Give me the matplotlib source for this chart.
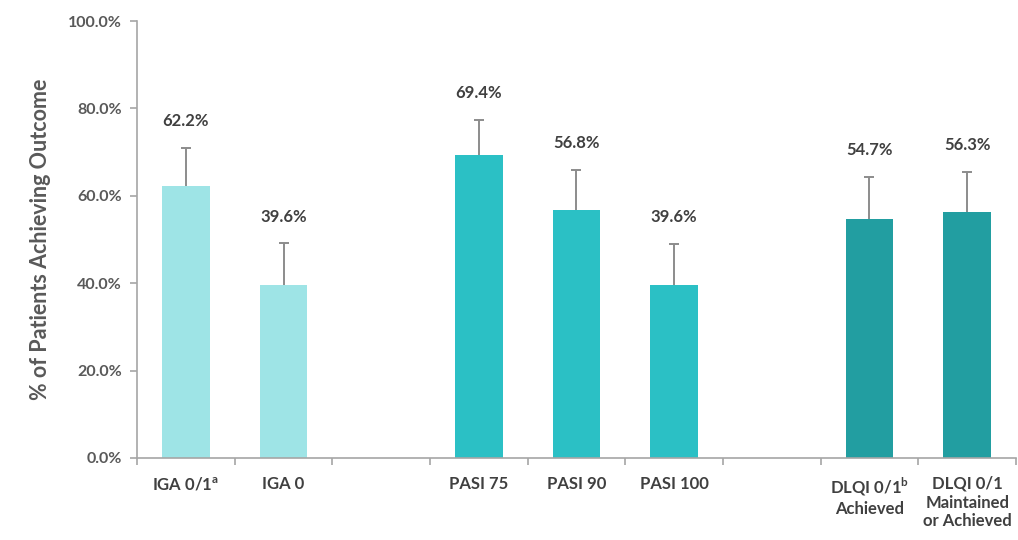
import numpy as np
import matplotlib.pyplot as plt
from matplotlib.ticker import FuncFormatter, FixedLocator

plt.rcParams['font.family'] = ['Lato', 'DejaVu Sans']
plt.rcParams['mathtext.fontset'] = 'custom'
plt.rcParams['mathtext.rm'] = 'Lato'
plt.rcParams['mathtext.bf'] = 'Lato:bold'

# outcome groups, values (%) and upper error (%)
groups = [
    ['IGA 0/1$^{\\mathbf{a}}$', 'IGA 0'],
    ['PASI 75', 'PASI 90', 'PASI 100'],
    ['DLQI 0/1$^{\\mathbf{b}}$\nAchieved', 'DLQI 0/1\nMaintained\nor Achieved'],
]
values = [
    [62.2, 39.6],
    [69.4, 56.8, 39.6],
    [54.7, 56.3],
]
err_upper = [
    [8.7, 9.5],
    [7.9, 9.1, 9.4],
    [9.6, 9.1],
]
group_colors = ['#9ee4e6', '#2bc0c5', '#229ea1']

text_col = '#404040'
axis_col = '#a6a6a6'
err_col = '#8c8c8c'

fig = plt.figure(figsize=(10.18, 5.4), dpi=100)
ax = fig.add_axes([0.1346, 0.152, 0.8634, 0.809])

pos = 0
xt, xl = [], []
for gi, (labels, vals, errs) in enumerate(zip(groups, values, err_upper)):
    x = np.arange(pos, pos + len(vals))
    vals = np.array(vals)
    errs = np.array(errs)
    ax.bar(x, vals, width=0.49, color=group_colors[gi], zorder=2)
    # upper whisker only, with a cap at the top
    ax.vlines(x, vals, vals + errs, color=err_col, linewidth=1.4, zorder=1)
    ax.plot(x, vals + errs, ls='none', marker='_', markersize=7,
            markeredgewidth=1.4, color=err_col, zorder=1)
    for xi, v, e in zip(x, vals, errs):
        ax.text(xi, v + e + 4.3, f'{v:.1f}%', ha='center', va='bottom',
                fontsize=12, fontweight='bold', color=text_col)
    xt += list(x)
    xl += labels
    pos += len(vals) + 1

n_slots = pos - 1
ax.set_xlim(-0.5, n_slots - 0.5)
ax.set_ylim(0, 100)

ax.set_xticks(xt)
ax.set_xticklabels(xl, fontsize=12, fontweight='bold', color=text_col,
                   linespacing=1.2, va='top')
ax.tick_params(axis='x', which='major', length=0, pad=13)
ax.xaxis.set_minor_locator(FixedLocator(np.arange(-0.5, n_slots, 1.0)))
ax.tick_params(axis='x', which='minor', length=5, color=axis_col, width=1.2)

ax.set_yticks(np.arange(0, 101, 20))
ax.yaxis.set_major_formatter(FuncFormatter(lambda v, p: f'{v:.1f}%'))
ax.tick_params(axis='y', length=5, color=axis_col, width=1.2, pad=6,
               labelsize=11.5, labelcolor='#595959')
for lab in ax.get_yticklabels():
    lab.set_fontweight('bold')

ax.set_ylabel('% of Patients Achieving Outcome', fontsize=15.5, color='#595959',
              fontweight='bold', labelpad=12)

for s in ['top', 'right']:
    ax.spines[s].set_visible(False)
for s in ['left', 'bottom']:
    ax.spines[s].set_color(axis_col)
    ax.spines[s].set_linewidth(1.2)

fig.savefig('out.png', dpi=100)
